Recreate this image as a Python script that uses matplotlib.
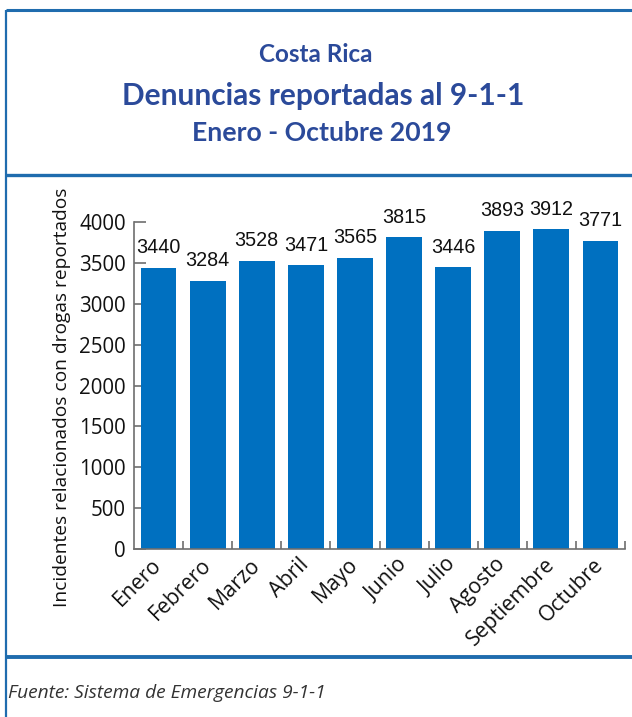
import matplotlib
matplotlib.use("Agg")
import matplotlib.pyplot as plt
from matplotlib.lines import Line2D

months = ["Enero", "Febrero", "Marzo", "Abril", "Mayo", "Junio", "Julio",
          "Agosto", "Septiembre", "Octubre"]
values = [3440, 3284, 3528, 3471, 3565, 3815, 3446, 3893, 3912, 3771]
yticks = [0, 500, 1000, 1500, 2000, 2500, 3000, 3500, 4000]

title_lines = ["Costa Rica", "Denuncias reportadas al 9-1-1", "Enero - Octubre 2019"]
ylabel = "Incidentes relacionados con drogas reportados"
source = "Fuente: Sistema de Emergencias 9-1-1"

BAR = "#0070c0"
TITLE = "#2b4a9a"
FRAME = "#1f6cae"
AXC = "#6e6e6e"

W, H = 632, 717
fig = plt.figure(figsize=(W / 100, H / 100), dpi=100)
fig.patch.set_facecolor("white")

def fx(px):
    return px / W

def fy(py):
    return 1 - py / H

# frame lines
for (x0, y0, x1, y1, lw) in [
    (6, 10, 632, 10, 2.2),
    (6, 10, 6, 717, 1.6),
    (6, 175, 632, 175, 2.4),
    (6, 657, 632, 657, 2.8),
]:
    fig.add_artist(Line2D([fx(x0), fx(x1)], [fy(y0), fy(y1)], color=FRAME,
                          lw=lw, transform=fig.transFigure, solid_capstyle="butt"))

# titles
tfont = ["Lato", "DejaVu Sans"]
fig.text(fx(316), fy(55), title_lines[0], ha="center", va="center",
         fontsize=17.5, fontweight="bold", color=TITLE, family=tfont)
fig.text(fx(323), fy(96), title_lines[1], ha="center", va="center",
         fontsize=21.5, fontweight="bold", color=TITLE, family=tfont)
fig.text(fx(322), fy(133), title_lines[2], ha="center", va="center",
         fontsize=19.2, fontweight="bold", color=TITLE, family=tfont)

# source
fig.text(fx(8), fy(693), source, ha="left", va="center", fontsize=13.8,
         style="italic", color="#333333", family=["Open Sans", "DejaVu Sans"])

ax = fig.add_axes([fx(134), fy(549), fx(625) - fx(134), fy(222) - fy(549)])
x = list(range(len(months)))
bars = ax.bar(x, values, width=0.73, color=BAR, zorder=3)
ax.set_xlim(-0.5, len(months) - 0.5)
ax.set_ylim(0, 4000)

for xi, v in zip(x, values):
    ax.annotate(str(v), (xi, v), xytext=(0, 7.5), textcoords="offset points",
                ha="center", va="bottom", fontsize=14.2, color="#111111",
                family=["Liberation Sans", "DejaVu Sans"], clip_on=False)

for s in ["top", "right"]:
    ax.spines[s].set_visible(False)
for s in ["left", "bottom"]:
    ax.spines[s].set_color(AXC)
    ax.spines[s].set_linewidth(1.2)
    ax.spines[s].set_zorder(4)

ax.set_yticks(yticks)
ax.set_yticklabels([str(t) for t in yticks], fontsize=14.8,
                   family=["Open Sans", "DejaVu Sans"], color="#111111")
ax.tick_params(axis="y", direction="in", length=8.6, width=1.2, color=AXC, pad=6)

# category boundary ticks
ax.set_xticks([i + 0.5 for i in x], minor=False)
ax.set_xticklabels([])
ax.tick_params(axis="x", which="major", direction="in", length=6, width=1.2, color=AXC)
ax.set_xticks(x, minor=True)
ax.set_xticklabels(months, minor=True, rotation=45, ha="right", va="center",
                   rotation_mode="anchor", fontsize=15.3,
                   family=["Open Sans", "DejaVu Sans"], color="#111111")
ax.tick_params(axis="x", which="minor", length=0, pad=9)

ax.set_ylabel(ylabel, fontsize=13.8, family=["Open Sans", "DejaVu Sans"],
              color="#111111")
ax.yaxis.set_label_coords(-0.128, 0.465)

fig.savefig("out.png", dpi=100)
